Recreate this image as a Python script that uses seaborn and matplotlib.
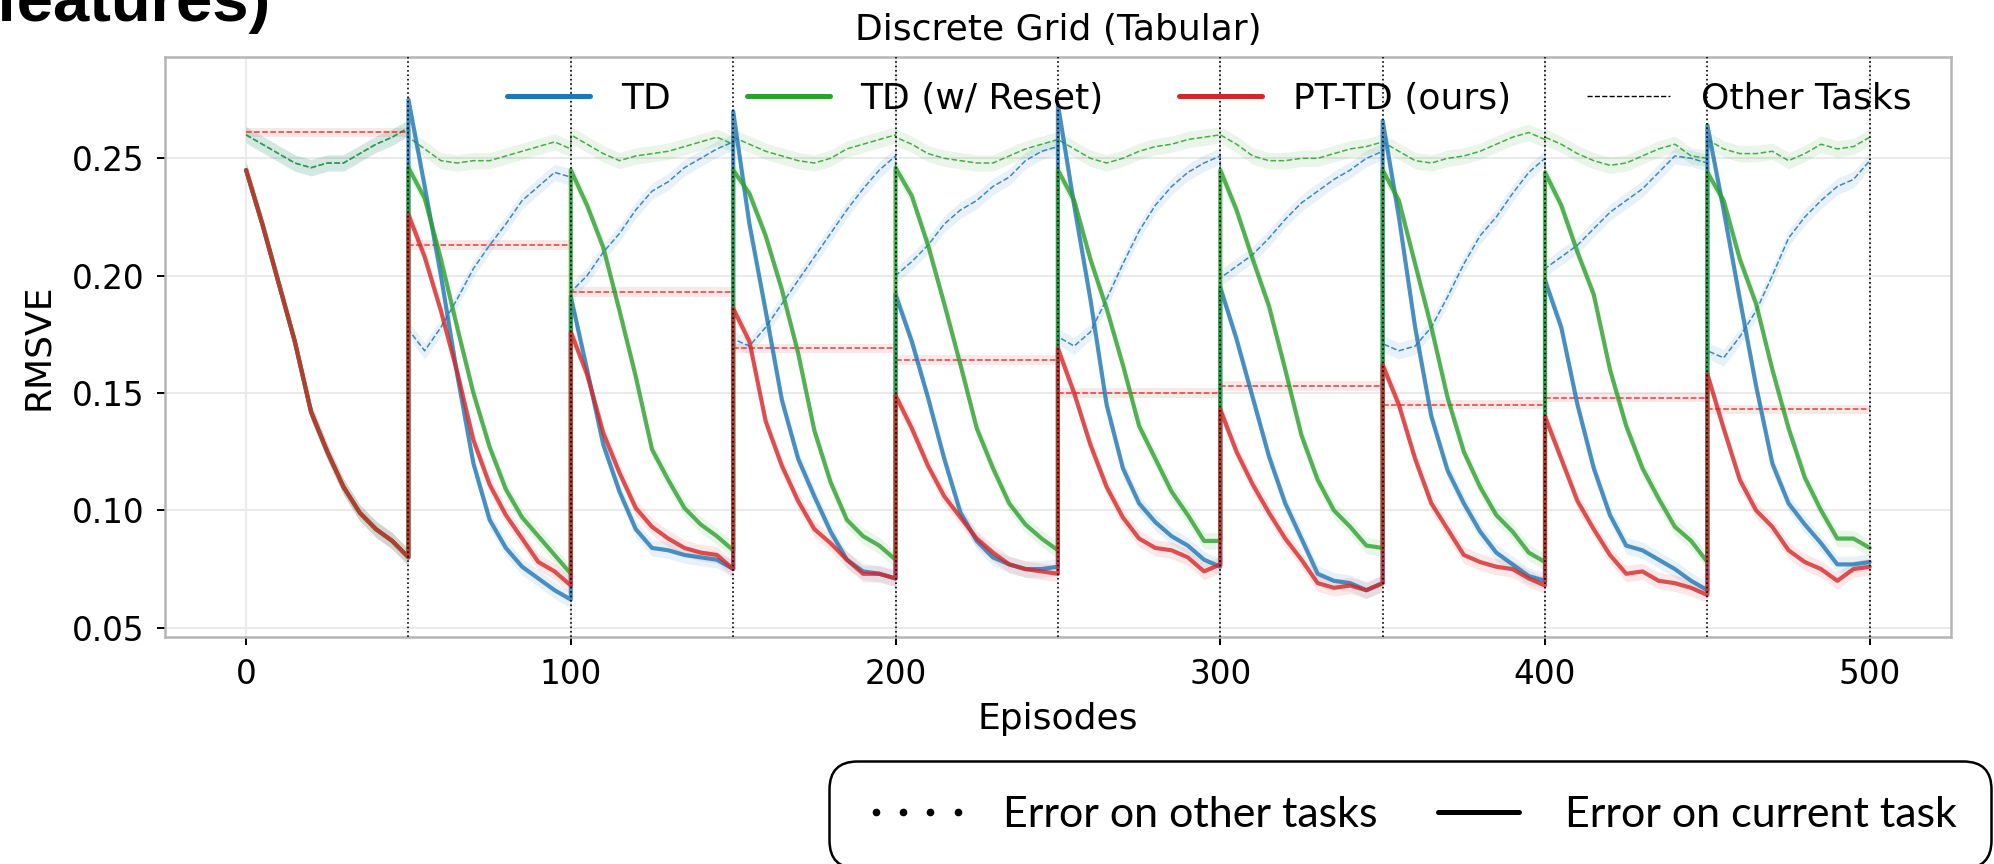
import numpy as np
import pandas as pd
import matplotlib
matplotlib.use("Agg")
import matplotlib.pyplot as plt
from matplotlib.lines import Line2D
import seaborn as sns

# episodes inside one task, and where each of the 10 tasks starts
task_offsets = [0, 5, 10, 15, 20, 25, 30, 35, 40, 45, 50]
task_starts = [0, 50, 100, 150, 200, 250, 300, 350, 400, 450]
task_switches = [50, 100, 150, 200, 250, 300, 350, 400, 450, 500]

# error on the current task (one row per task)
td_current = [
    [0.245, 0.222, 0.197, 0.172, 0.142, 0.125, 0.110, 0.099, 0.092, 0.087, 0.080],
    [0.275, 0.238, 0.200, 0.158, 0.120, 0.096, 0.084, 0.076, 0.071, 0.066, 0.062],
    [0.191, 0.160, 0.128, 0.108, 0.092, 0.084, 0.083, 0.081, 0.080, 0.079, 0.075],
    [0.270, 0.222, 0.185, 0.147, 0.122, 0.106, 0.091, 0.079, 0.074, 0.073, 0.071],
    [0.192, 0.172, 0.148, 0.122, 0.099, 0.087, 0.080, 0.077, 0.075, 0.075, 0.076],
    [0.273, 0.230, 0.190, 0.145, 0.118, 0.103, 0.095, 0.089, 0.085, 0.079, 0.076],
    [0.195, 0.173, 0.148, 0.123, 0.103, 0.088, 0.073, 0.070, 0.069, 0.066, 0.069],
    [0.266, 0.225, 0.178, 0.140, 0.117, 0.103, 0.091, 0.082, 0.077, 0.072, 0.070],
    [0.198, 0.178, 0.145, 0.118, 0.098, 0.085, 0.083, 0.079, 0.075, 0.070, 0.066],
    [0.264, 0.228, 0.190, 0.153, 0.120, 0.103, 0.094, 0.086, 0.077, 0.077, 0.078],
]
reset_current = [
    [0.245, 0.222, 0.197, 0.172, 0.142, 0.125, 0.110, 0.099, 0.092, 0.087, 0.080],
    [0.246, 0.233, 0.207, 0.178, 0.150, 0.127, 0.109, 0.097, 0.089, 0.081, 0.073],
    [0.245, 0.230, 0.212, 0.185, 0.157, 0.126, 0.113, 0.101, 0.094, 0.089, 0.083],
    [0.245, 0.235, 0.217, 0.194, 0.167, 0.134, 0.112, 0.096, 0.089, 0.085, 0.079],
    [0.246, 0.234, 0.213, 0.188, 0.162, 0.135, 0.118, 0.103, 0.094, 0.088, 0.083],
    [0.245, 0.232, 0.207, 0.186, 0.162, 0.136, 0.122, 0.108, 0.098, 0.087, 0.087],
    [0.245, 0.228, 0.207, 0.187, 0.160, 0.132, 0.113, 0.100, 0.093, 0.085, 0.084],
    [0.245, 0.232, 0.205, 0.178, 0.148, 0.125, 0.110, 0.098, 0.091, 0.082, 0.078],
    [0.244, 0.230, 0.210, 0.192, 0.160, 0.136, 0.118, 0.105, 0.093, 0.087, 0.078],
    [0.244, 0.232, 0.207, 0.188, 0.160, 0.135, 0.114, 0.100, 0.088, 0.088, 0.084],
]
pttd_current = [
    [0.245, 0.222, 0.197, 0.172, 0.142, 0.125, 0.110, 0.099, 0.092, 0.087, 0.080],
    [0.226, 0.208, 0.185, 0.159, 0.130, 0.111, 0.098, 0.088, 0.078, 0.074, 0.068],
    [0.176, 0.158, 0.133, 0.116, 0.101, 0.093, 0.088, 0.084, 0.082, 0.081, 0.075],
    [0.186, 0.172, 0.138, 0.119, 0.104, 0.092, 0.086, 0.079, 0.073, 0.073, 0.071],
    [0.149, 0.135, 0.119, 0.106, 0.097, 0.088, 0.082, 0.077, 0.075, 0.074, 0.073],
    [0.169, 0.150, 0.128, 0.110, 0.097, 0.088, 0.084, 0.083, 0.080, 0.074, 0.077],
    [0.143, 0.125, 0.111, 0.099, 0.088, 0.079, 0.069, 0.067, 0.068, 0.066, 0.069],
    [0.162, 0.145, 0.122, 0.103, 0.092, 0.081, 0.078, 0.076, 0.075, 0.071, 0.068],
    [0.140, 0.122, 0.104, 0.092, 0.081, 0.073, 0.074, 0.070, 0.069, 0.067, 0.064],
    [0.158, 0.135, 0.113, 0.100, 0.093, 0.083, 0.078, 0.075, 0.070, 0.075, 0.076],
]

# error on the other tasks
td_other = [
    [0.260, 0.256, 0.252, 0.248, 0.246, 0.248, 0.248, 0.252, 0.256, 0.259, 0.263],
    [0.177, 0.168, 0.178, 0.190, 0.203, 0.213, 0.222, 0.232, 0.238, 0.244, 0.242],
    [0.193, 0.200, 0.210, 0.218, 0.228, 0.236, 0.240, 0.246, 0.250, 0.254, 0.257],
    [0.173, 0.170, 0.178, 0.188, 0.198, 0.208, 0.218, 0.228, 0.237, 0.245, 0.251],
    [0.200, 0.206, 0.213, 0.222, 0.228, 0.232, 0.238, 0.242, 0.249, 0.253, 0.255],
    [0.174, 0.170, 0.176, 0.190, 0.205, 0.219, 0.230, 0.238, 0.244, 0.248, 0.251],
    [0.199, 0.204, 0.209, 0.216, 0.224, 0.231, 0.236, 0.241, 0.245, 0.250, 0.253],
    [0.171, 0.168, 0.170, 0.178, 0.191, 0.205, 0.217, 0.225, 0.235, 0.244, 0.250],
    [0.203, 0.208, 0.213, 0.220, 0.227, 0.232, 0.237, 0.244, 0.251, 0.250, 0.248],
    [0.168, 0.165, 0.174, 0.185, 0.200, 0.216, 0.225, 0.232, 0.238, 0.241, 0.249],
]
reset_other = [
    [0.260, 0.256, 0.252, 0.248, 0.246, 0.248, 0.248, 0.252, 0.256, 0.259, 0.263],
    [0.259, 0.254, 0.249, 0.248, 0.249, 0.249, 0.251, 0.253, 0.255, 0.257, 0.254],
    [0.260, 0.256, 0.252, 0.249, 0.251, 0.252, 0.253, 0.255, 0.257, 0.259, 0.256],
    [0.259, 0.256, 0.253, 0.251, 0.249, 0.248, 0.250, 0.254, 0.256, 0.258, 0.260],
    [0.259, 0.256, 0.252, 0.250, 0.249, 0.248, 0.248, 0.251, 0.254, 0.256, 0.258],
    [0.258, 0.254, 0.250, 0.248, 0.250, 0.253, 0.255, 0.256, 0.258, 0.259, 0.260],
    [0.260, 0.256, 0.251, 0.249, 0.249, 0.250, 0.250, 0.252, 0.254, 0.255, 0.257],
    [0.257, 0.253, 0.249, 0.248, 0.250, 0.251, 0.253, 0.256, 0.259, 0.261, 0.258],
    [0.259, 0.256, 0.252, 0.249, 0.247, 0.248, 0.251, 0.254, 0.256, 0.251, 0.250],
    [0.258, 0.254, 0.252, 0.252, 0.253, 0.249, 0.252, 0.256, 0.254, 0.255, 0.259],
]
# PT-TD keeps its permanent values fixed during a task -> one level per task
pttd_other = [0.261, 0.213, 0.193, 0.169, 0.164, 0.150, 0.153, 0.145, 0.148, 0.143]

# half width of the shaded bands
band_current = 0.0035
band_other = 0.0035
band_pttd_other = 0.002

colors = {"TD": "#1f77b4", "TD (w/ Reset)": "#2ca02c", "PT-TD (ours)": "#d62728"}


def long_form(rows, name):
    frames = []
    for start, vals in zip(task_starts, rows):
        frames.append(pd.DataFrame({"episode": [start + o for o in task_offsets],
                                    "rmsve": vals, "method": name}))
    return pd.concat(frames, ignore_index=True)


sns.set_style("whitegrid", {"axes.edgecolor": "#b5b5b5", "grid.color": "#e8e8e8",
                            "xtick.bottom": True, "ytick.left": True,
                            "xtick.color": "black", "ytick.color": "black",
                            "text.color": "black", "axes.labelcolor": "black"})
plt.rcParams["font.family"] = ["DejaVu Sans"]

fig = plt.figure(figsize=(19.94, 8.64), dpi=100)
ax = fig.add_axes([0.0827, 0.2631, 0.8957, 0.6713])

current = {"TD": td_current, "TD (w/ Reset)": reset_current, "PT-TD (ours)": pttd_current}
other = {"TD": td_other, "TD (w/ Reset)": reset_other}

# dashed: error on other tasks
for name, rows in other.items():
    df = long_form(rows, name)
    ax.fill_between(df["episode"], df["rmsve"] - band_other, df["rmsve"] + band_other,
                    color=colors[name], alpha=0.1, lw=0)
    sns.lineplot(data=df, x="episode", y="rmsve", ax=ax, color=colors[name], lw=1.1,
                 ls="--", alpha=0.85, estimator=None, sort=False, errorbar=None)
for start, level in zip(task_starts, pttd_other):
    ax.fill_between([start, start + 50], level - band_pttd_other, level + band_pttd_other,
                    color=colors["PT-TD (ours)"], alpha=0.1, lw=0)
    ax.hlines(level, start, start + 50, color=colors["PT-TD (ours)"], lw=1.1,
              linestyles="--", alpha=0.85)

# solid: error on the current task
for name, rows in current.items():
    df = long_form(rows, name)
    ax.fill_between(df["episode"], df["rmsve"] - band_current, df["rmsve"] + band_current,
                    color=colors[name], alpha=0.1, lw=0)
    sns.lineplot(data=df, x="episode", y="rmsve", ax=ax, color=colors[name], lw=3,
                 alpha=0.8, estimator=None, sort=False, errorbar=None)

for s in task_switches:
    ax.axvline(s, color="black", ls=":", lw=1.2, zorder=5)

ax.set_xlim(-25, 525)
ax.set_ylim(0.0462, 0.2933)
ax.set_xticks([0, 100, 200, 300, 400, 500])
ax.set_yticks([0.05, 0.10, 0.15, 0.20, 0.25])
ax.set_yticklabels(["0.05", "0.10", "0.15", "0.20", "0.25"])
ax.tick_params(axis="both", labelsize=23.5, length=6, width=1.4, pad=9)
for sp in ax.spines.values():
    sp.set_linewidth(1.8)
ax.grid(True, lw=1.3)
ax.set_xlabel("Episodes", fontsize=26, labelpad=8)
ax.set_ylabel("RMSVE", fontsize=26, labelpad=12)
ax.set_title("Discrete Grid (Tabular)", fontsize=26, pad=12)

handles = [Line2D([0], [0], color=colors[n], lw=3.6) for n in current]
handles.append(Line2D([0], [0], color="black", lw=1, ls="--"))
ax.legend(handles, list(current) + ["Other Tasks"], loc="upper right",
          bbox_to_anchor=(0.986, 0.982), borderaxespad=0, ncol=4, frameon=False,
          fontsize=26, handlelength=2.3, handletextpad=0.85, columnspacing=2.1)

# tail of the panel heading from the page above
fig.text(-0.002, 0.9757, "features)", fontsize=47, fontweight="bold", color="black",
         family=["Liberation Sans", "DejaVu Sans"], va="baseline", ha="left")

# separate key for the line styles
key_handles = [Line2D([0], [0], color="black", ls="none", marker="o", markersize=4.5),
               Line2D([0], [0], color="black", lw=3.6)]
key = fig.legend(key_handles, ["Error on other tasks", "Error on current task"],
                 loc="upper right", bbox_to_anchor=(0.9985, 0.119), ncol=2,
                 numpoints=4, prop={"family": "Lato", "size": 31},
                 handlelength=2.5, handletextpad=0.75, columnspacing=1.1,
                 borderpad=0.8, borderaxespad=0, frameon=True, framealpha=1,
                 edgecolor="black")
key.get_frame().set_linewidth(1.8)
key.get_frame().set_boxstyle("round", pad=0, rounding_size=0.65)
for t in key.get_texts():
    t.set_color("black")

fig.savefig("out.png", dpi=100)
